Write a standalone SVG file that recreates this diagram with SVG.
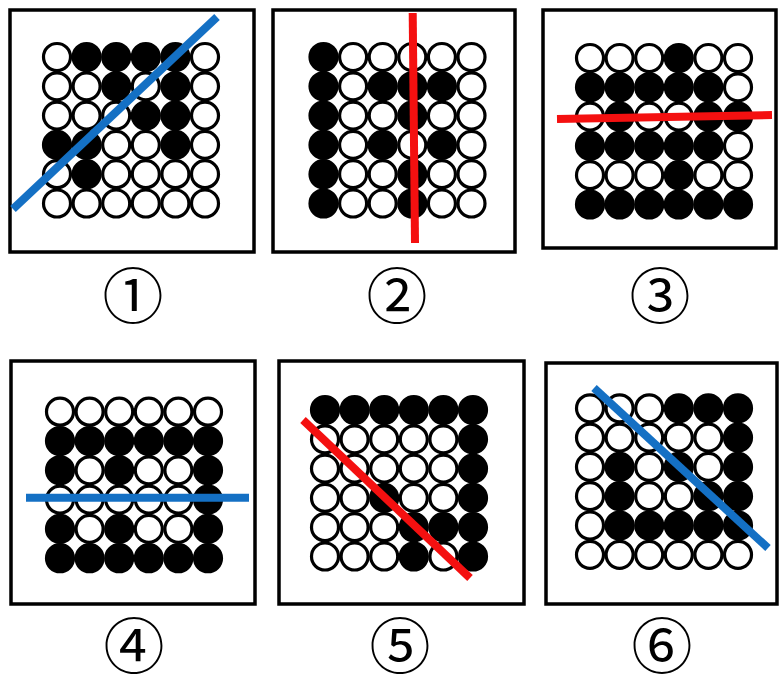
<svg xmlns="http://www.w3.org/2000/svg" width="779" height="680" viewBox="0 0 779 680">
<style>
.frame{fill:#fff;stroke:#000;stroke-width:3.5}
.w{fill:#fff;stroke:#000;stroke-width:3.2}
.b{fill:#000;stroke:#000;stroke-width:3.2}
.blue{stroke:#1470c4;stroke-width:8;fill:none}
.red{stroke:#f41010;stroke-width:8;fill:none}
.lbl{font-family:"Noto Sans CJK SC","DejaVu Serif",serif;font-size:61px;fill:#000;text-anchor:middle}
</style>
<rect width="779" height="680" fill="#fff"/>
<defs>
<circle id="W" r="13.5" class="w"/>
<circle id="B" r="13.5" class="b"/>
</defs>
<g id="panel1">
<rect class="frame" x="10" y="10" width="244" height="242"/>
<g transform="translate(57,57)">
<use href="#W" x="0" y="0"/><use href="#B" x="29.6" y="0"/><use href="#B" x="59.2" y="0"/><use href="#B" x="88.8" y="0"/><use href="#B" x="118.4" y="0"/><use href="#W" x="148" y="0"/>
<use href="#W" x="0" y="29.3"/><use href="#W" x="29.6" y="29.3"/><use href="#B" x="59.2" y="29.3"/><use href="#W" x="88.8" y="29.3"/><use href="#B" x="118.4" y="29.3"/><use href="#W" x="148" y="29.3"/>
<use href="#W" x="0" y="58.6"/><use href="#W" x="29.6" y="58.6"/><use href="#W" x="59.2" y="58.6"/><use href="#B" x="88.8" y="58.6"/><use href="#B" x="118.4" y="58.6"/><use href="#W" x="148" y="58.6"/>
<use href="#B" x="0" y="87.9"/><use href="#B" x="29.6" y="87.9"/><use href="#W" x="59.2" y="87.9"/><use href="#W" x="88.8" y="87.9"/><use href="#B" x="118.4" y="87.9"/><use href="#W" x="148" y="87.9"/>
<use href="#W" x="0" y="117.2"/><use href="#B" x="29.6" y="117.2"/><use href="#W" x="59.2" y="117.2"/><use href="#W" x="88.8" y="117.2"/><use href="#W" x="118.4" y="117.2"/><use href="#W" x="148" y="117.2"/>
<use href="#W" x="0" y="146.5"/><use href="#W" x="29.6" y="146.5"/><use href="#W" x="59.2" y="146.5"/><use href="#W" x="88.8" y="146.5"/><use href="#W" x="118.4" y="146.5"/><use href="#W" x="148" y="146.5"/>
</g>
<line class="blue" x1="13" y1="209" x2="217" y2="17"/>
<text class="lbl" x="133" y="319">①</text>
</g>
<g id="panel2">
<rect class="frame" x="273" y="10" width="242" height="242"/>
<g transform="translate(323.5,57)">
<use href="#B" x="0" y="0"/><use href="#W" x="29.6" y="0"/><use href="#W" x="59.2" y="0"/><use href="#W" x="88.8" y="0"/><use href="#W" x="118.4" y="0"/><use href="#W" x="148" y="0"/>
<use href="#B" x="0" y="29.3"/><use href="#W" x="29.6" y="29.3"/><use href="#B" x="59.2" y="29.3"/><use href="#B" x="88.8" y="29.3"/><use href="#B" x="118.4" y="29.3"/><use href="#W" x="148" y="29.3"/>
<use href="#B" x="0" y="58.6"/><use href="#W" x="29.6" y="58.6"/><use href="#W" x="59.2" y="58.6"/><use href="#B" x="88.8" y="58.6"/><use href="#W" x="118.4" y="58.6"/><use href="#W" x="148" y="58.6"/>
<use href="#B" x="0" y="87.9"/><use href="#W" x="29.6" y="87.9"/><use href="#B" x="59.2" y="87.9"/><use href="#W" x="88.8" y="87.9"/><use href="#B" x="118.4" y="87.9"/><use href="#W" x="148" y="87.9"/>
<use href="#B" x="0" y="117.2"/><use href="#W" x="29.6" y="117.2"/><use href="#W" x="59.2" y="117.2"/><use href="#B" x="88.8" y="117.2"/><use href="#W" x="118.4" y="117.2"/><use href="#W" x="148" y="117.2"/>
<use href="#B" x="0" y="146.5"/><use href="#W" x="29.6" y="146.5"/><use href="#W" x="59.2" y="146.5"/><use href="#B" x="88.8" y="146.5"/><use href="#W" x="118.4" y="146.5"/><use href="#W" x="148" y="146.5"/>
</g>
<line class="red" x1="412.7" y1="13" x2="415" y2="243"/>
<text class="lbl" x="397" y="319">②</text>
</g>
<g id="panel3">
<rect class="frame" x="543" y="10" width="233" height="238"/>
<g transform="translate(590,58)">
<use href="#W" x="0" y="0"/><use href="#W" x="29.6" y="0"/><use href="#W" x="59.2" y="0"/><use href="#B" x="88.8" y="0"/><use href="#W" x="118.4" y="0"/><use href="#W" x="148" y="0"/>
<use href="#B" x="0" y="29.3"/><use href="#B" x="29.6" y="29.3"/><use href="#B" x="59.2" y="29.3"/><use href="#B" x="88.8" y="29.3"/><use href="#B" x="118.4" y="29.3"/><use href="#W" x="148" y="29.3"/>
<use href="#W" x="0" y="58.6"/><use href="#B" x="29.6" y="58.6"/><use href="#W" x="59.2" y="58.6"/><use href="#W" x="88.8" y="58.6"/><use href="#B" x="118.4" y="58.6"/><use href="#B" x="148" y="58.6"/>
<use href="#B" x="0" y="87.9"/><use href="#B" x="29.6" y="87.9"/><use href="#B" x="59.2" y="87.9"/><use href="#B" x="88.8" y="87.9"/><use href="#B" x="118.4" y="87.9"/><use href="#W" x="148" y="87.9"/>
<use href="#W" x="0" y="117.2"/><use href="#W" x="29.6" y="117.2"/><use href="#W" x="59.2" y="117.2"/><use href="#B" x="88.8" y="117.2"/><use href="#W" x="118.4" y="117.2"/><use href="#W" x="148" y="117.2"/>
<use href="#B" x="0" y="146.5"/><use href="#B" x="29.6" y="146.5"/><use href="#B" x="59.2" y="146.5"/><use href="#B" x="88.8" y="146.5"/><use href="#B" x="118.4" y="146.5"/><use href="#B" x="148" y="146.5"/>
</g>
<line class="red" x1="557" y1="119" x2="772" y2="115"/>
<text class="lbl" x="660" y="319">③</text>
</g>
<g id="panel4">
<rect class="frame" x="11" y="361" width="244" height="243"/>
<g transform="translate(60,411.7)">
<use href="#W" x="0" y="0"/><use href="#W" x="29.6" y="0"/><use href="#W" x="59.2" y="0"/><use href="#W" x="88.8" y="0"/><use href="#W" x="118.4" y="0"/><use href="#W" x="148" y="0"/>
<use href="#B" x="0" y="29.3"/><use href="#B" x="29.6" y="29.3"/><use href="#B" x="59.2" y="29.3"/><use href="#B" x="88.8" y="29.3"/><use href="#B" x="118.4" y="29.3"/><use href="#B" x="148" y="29.3"/>
<use href="#B" x="0" y="58.6"/><use href="#W" x="29.6" y="58.6"/><use href="#B" x="59.2" y="58.6"/><use href="#W" x="88.8" y="58.6"/><use href="#W" x="118.4" y="58.6"/><use href="#B" x="148" y="58.6"/>
<use href="#W" x="0" y="87.9"/><use href="#W" x="29.6" y="87.9"/><use href="#W" x="59.2" y="87.9"/><use href="#W" x="88.8" y="87.9"/><use href="#W" x="118.4" y="87.9"/><use href="#B" x="148" y="87.9"/>
<use href="#B" x="0" y="117.2"/><use href="#W" x="29.6" y="117.2"/><use href="#B" x="59.2" y="117.2"/><use href="#W" x="88.8" y="117.2"/><use href="#W" x="118.4" y="117.2"/><use href="#B" x="148" y="117.2"/>
<use href="#B" x="0" y="146.5"/><use href="#B" x="29.6" y="146.5"/><use href="#B" x="59.2" y="146.5"/><use href="#B" x="88.8" y="146.5"/><use href="#B" x="118.4" y="146.5"/><use href="#B" x="148" y="146.5"/>
</g>
<line class="blue" x1="26" y1="497.7" x2="249" y2="497.7"/>
<text class="lbl" x="134" y="669">④</text>
</g>
<g id="panel5">
<rect class="frame" x="279" y="361" width="245" height="243"/>
<g transform="translate(325,410)">
<use href="#B" x="0" y="0"/><use href="#B" x="29.6" y="0"/><use href="#B" x="59.2" y="0"/><use href="#B" x="88.8" y="0"/><use href="#B" x="118.4" y="0"/><use href="#B" x="148" y="0"/>
<use href="#W" x="0" y="29.3"/><use href="#W" x="29.6" y="29.3"/><use href="#W" x="59.2" y="29.3"/><use href="#W" x="88.8" y="29.3"/><use href="#W" x="118.4" y="29.3"/><use href="#B" x="148" y="29.3"/>
<use href="#W" x="0" y="58.6"/><use href="#W" x="29.6" y="58.6"/><use href="#W" x="59.2" y="58.6"/><use href="#W" x="88.8" y="58.6"/><use href="#W" x="118.4" y="58.6"/><use href="#B" x="148" y="58.6"/>
<use href="#W" x="0" y="87.9"/><use href="#W" x="29.6" y="87.9"/><use href="#B" x="59.2" y="87.9"/><use href="#W" x="88.8" y="87.9"/><use href="#W" x="118.4" y="87.9"/><use href="#B" x="148" y="87.9"/>
<use href="#W" x="0" y="117.2"/><use href="#W" x="29.6" y="117.2"/><use href="#W" x="59.2" y="117.2"/><use href="#B" x="88.8" y="117.2"/><use href="#B" x="118.4" y="117.2"/><use href="#B" x="148" y="117.2"/>
<use href="#W" x="0" y="146.5"/><use href="#W" x="29.6" y="146.5"/><use href="#W" x="59.2" y="146.5"/><use href="#B" x="88.8" y="146.5"/><use href="#W" x="118.4" y="146.5"/><use href="#B" x="148" y="146.5"/>
</g>
<line class="red" x1="303" y1="420" x2="470" y2="578"/>
<text class="lbl" x="400" y="669">⑤</text>
</g>
<g id="panel6">
<rect class="frame" x="546" y="363" width="231" height="241"/>
<g transform="translate(590,408.3)">
<use href="#W" x="0" y="0"/><use href="#W" x="29.6" y="0"/><use href="#W" x="59.2" y="0"/><use href="#B" x="88.8" y="0"/><use href="#B" x="118.4" y="0"/><use href="#B" x="148" y="0"/>
<use href="#W" x="0" y="29.3"/><use href="#W" x="29.6" y="29.3"/><use href="#W" x="59.2" y="29.3"/><use href="#W" x="88.8" y="29.3"/><use href="#W" x="118.4" y="29.3"/><use href="#B" x="148" y="29.3"/>
<use href="#W" x="0" y="58.6"/><use href="#B" x="29.6" y="58.6"/><use href="#W" x="59.2" y="58.6"/><use href="#B" x="88.8" y="58.6"/><use href="#W" x="118.4" y="58.6"/><use href="#B" x="148" y="58.6"/>
<use href="#W" x="0" y="87.9"/><use href="#B" x="29.6" y="87.9"/><use href="#W" x="59.2" y="87.9"/><use href="#W" x="88.8" y="87.9"/><use href="#B" x="118.4" y="87.9"/><use href="#B" x="148" y="87.9"/>
<use href="#W" x="0" y="117.2"/><use href="#B" x="29.6" y="117.2"/><use href="#B" x="59.2" y="117.2"/><use href="#B" x="88.8" y="117.2"/><use href="#B" x="118.4" y="117.2"/><use href="#B" x="148" y="117.2"/>
<use href="#W" x="0" y="146.5"/><use href="#W" x="29.6" y="146.5"/><use href="#W" x="59.2" y="146.5"/><use href="#W" x="88.8" y="146.5"/><use href="#W" x="118.4" y="146.5"/><use href="#W" x="148" y="146.5"/>
</g>
<line class="blue" x1="594" y1="388" x2="768" y2="548"/>
<text class="lbl" x="662" y="669">⑥</text>
</g>
<g id="connectors"/>
</svg>
